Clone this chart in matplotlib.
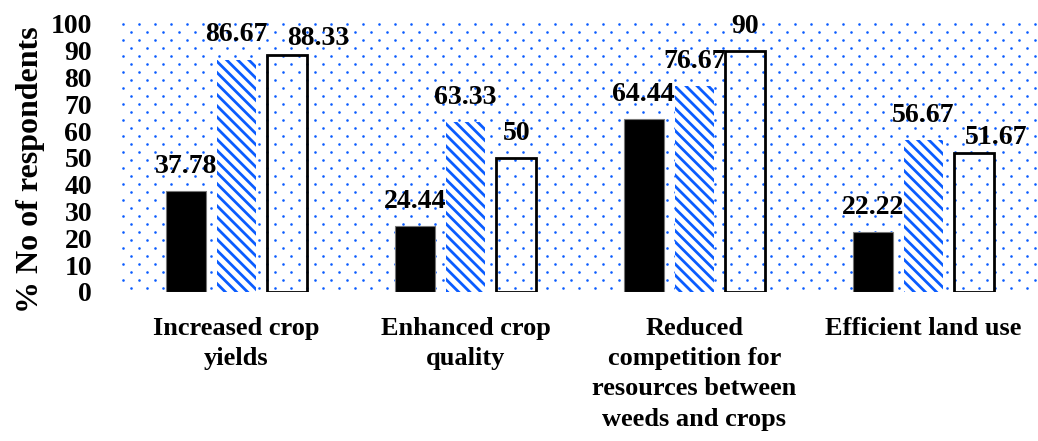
import numpy as np
import matplotlib.pyplot as plt

plt.rcParams['font.family'] = ['Liberation Serif', 'DejaVu Serif']
plt.rcParams['font.weight'] = 'bold'
plt.rcParams['hatch.linewidth'] = 2.0

categories = ['Increased crop\nyields', 'Enhanced crop\nquality',
              'Reduced\ncompetition for\nresources between\nweeds and crops',
              'Efficient land use']
series_a = [37.78, 24.44, 64.44, 22.22]   # solid black
series_b = [86.67, 63.33, 76.67, 56.67]   # blue hatched
series_c = [88.33, 50, 90, 51.67]         # open
y_ticks = list(range(0, 101, 10))

# label nudges (points) for the open bars that would collide with neighbours
nudge_c = [(22, -6), (0, 0), (0, 0), (16, -6)]

blue = '#0a5cff'

fig = plt.figure(figsize=(10.38, 4.41), dpi=100)
ax = fig.add_axes([0.1175, 0.338, 0.8825, 0.608])
ax.set_xlim(-0.5, 3.5)
ax.set_ylim(0, 100)

# dotted background (staggered dot lattice)
W, H = 916.0, 268.0
rows = np.arange(0, H + 1, 8.0)
pts_x, pts_y = [], []
for i, ry in enumerate(rows):
    start = 1.0 if i % 2 == 0 else 9.0
    cols = np.arange(start, W, 16.0)
    pts_x.extend(cols / W)
    pts_y.extend(np.full(len(cols), 1 - ry / H))
ax.scatter(pts_x, pts_y, s=3.5, color=blue, linewidths=0, transform=ax.transAxes,
           zorder=0, clip_on=False)

x = np.arange(len(categories))
w = 0.174
off = 0.222

b1 = ax.bar(x - off, series_a, w, color='black', edgecolor='#777777', linewidth=0.8, zorder=2)
b2 = ax.bar(x, series_b, w, facecolor='white', edgecolor=blue, hatch='\\\\\\',
            linewidth=0, zorder=2)
b3 = ax.bar(x + off, series_c, w, facecolor='none', edgecolor='black', linewidth=2.0, zorder=2)

nudges = ([(0, 0)] * 4, [(0, 0)] * 4, nudge_c)
for bars, vals, nd in zip((b1, b2, b3), (series_a, series_b, series_c), nudges):
    for rect, v, (dx, dy) in zip(bars, vals, nd):
        ax.annotate(f'{v:g}', (rect.get_x() + rect.get_width() / 2, v),
                    xytext=(dx, 13 + dy), textcoords='offset points',
                    ha='center', va='baseline', fontsize=20, fontweight='bold', zorder=3)

for s in ax.spines.values():
    s.set_visible(False)

ax.set_yticks(y_ticks)
ax.set_yticklabels([str(t) for t in y_ticks], fontsize=20, fontweight='bold')
ax.tick_params(axis='y', length=0, pad=21.5)
ax.set_xticks(x)
ax.set_xticklabels(categories, fontsize=19, fontweight='bold', linespacing=1.4, va='top')
ax.tick_params(axis='x', length=0, pad=18)

ax.set_ylabel('% No of respondents', fontsize=23, fontweight='bold')
ax.yaxis.set_label_coords(-0.084, 0.455)

fig.savefig('out.png', dpi=100)
